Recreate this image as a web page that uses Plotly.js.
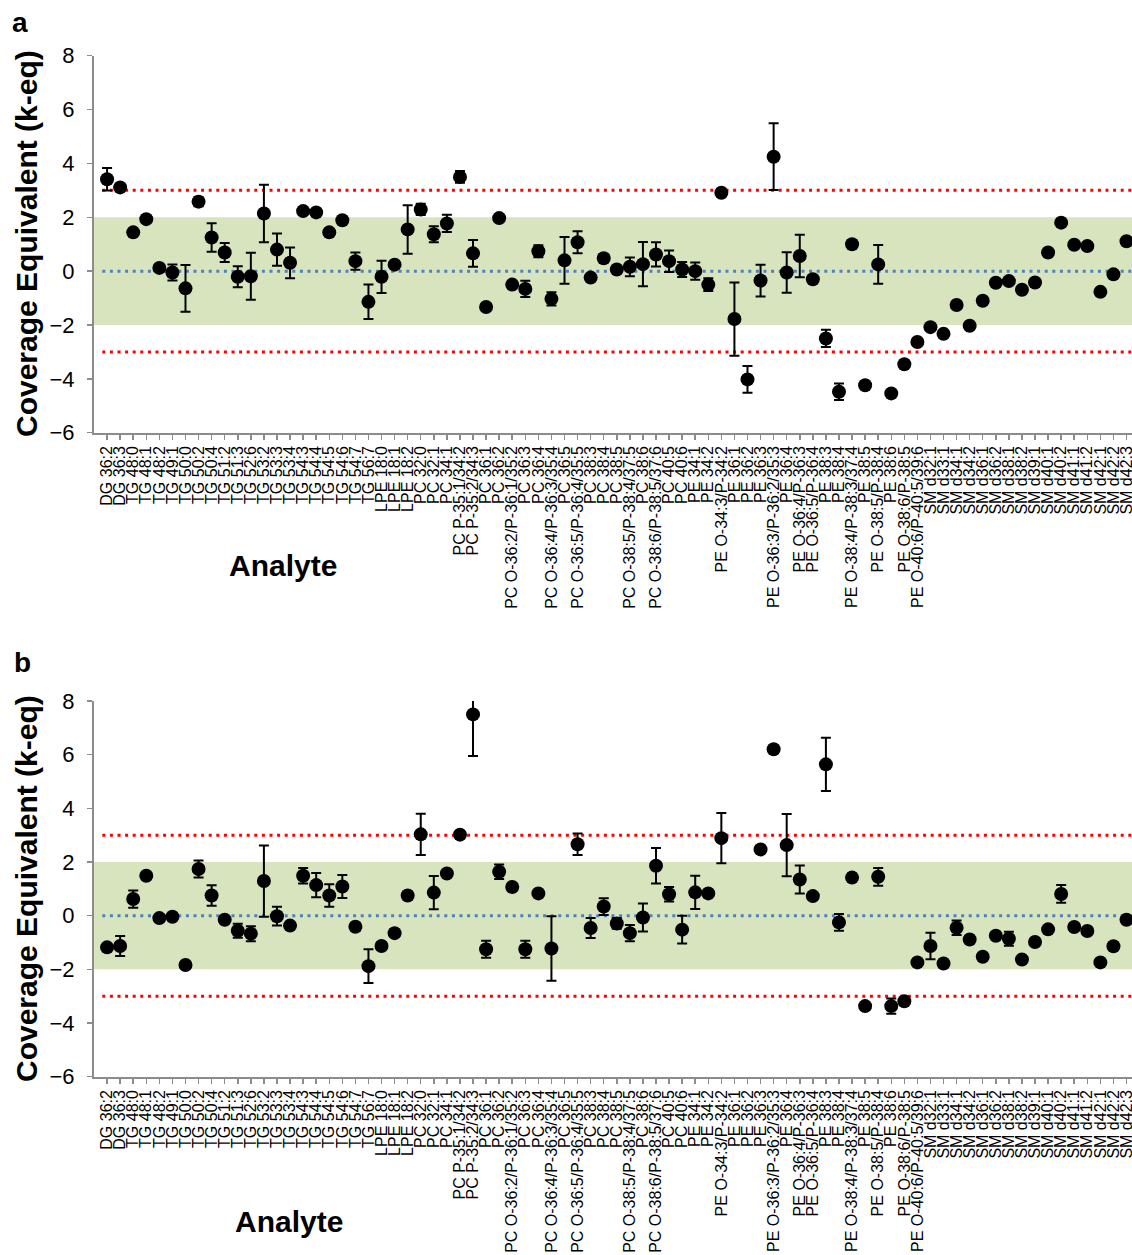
<!DOCTYPE html>
<html>
<head>
<meta charset="utf-8">
<script src="https://cdn.plot.ly/plotly-3.0.1.min.js"></script>
<style>
  html, body { margin: 0; padding: 0; background: #fff; }
  #chart { width: 1132px; height: 1255px; }
</style>
</head>
<body>
<div id="chart"></div>
<script>
// ---------------- DATA ----------------
const analytes = [
  "DG 36:2","DG 36:3","TG 48:0","TG 48:1","TG 48:2","TG 49:1","TG 50:0","TG 50:2","TG 50:4","TG 51:2",
  "TG 51:3","TG 52:6","TG 53:2","TG 53:3","TG 53:4","TG 54:3","TG 54:4","TG 54:5","TG 54:6","TG 54:7",
  "TG 56:7","LPE 18:0","LPE 18:1","LPE 18:2","PC 32:0","PC 32:1","PC 34:1","PC P-35:1/34:2","PC P-35:2/34:3","PC 36:1",
  "PC 36:2","PC O-36:2/P-36:1/35:2","PC 36:3","PC 36:4","PC O-36:4/P-36:3/35:4","PC 36:5","PC O-36:5/P-36:4/35:5","PC 38:3","PC 38:4","PC 38:5",
  "PC O-38:5/P-38:4/37:5","PC 38:6","PC O-38:6/P-38:5/37:6","PC 40:5","PC 40:6","PE 34:1","PE 34:2","PE O-34:3/P-34:2","PE 36:1","PE 36:2",
  "PE 36:3","PE O-36:3/P-36:2/35:3","PE 36:4","PE O-36:4/P-36:3","PE O-36:5/P-36:4","PE 38:3","PE 38:4","PE O-38:4/P-38:3/37:4","PE 38:5","PE O-38:5/P-38:4",
  "PE 38:6","PE O-38:6/P-38:5","PE O-40:6/P-40:5/39:6","SM d32:1","SM d33:1","SM d34:1","SM d34:2","SM d36:1","SM d36:2","SM d38:1",
  "SM d38:2","SM d39:1","SM d40:1","SM d40:2","SM d41:1","SM d41:2","SM d42:1","SM d42:2","SM d42:3"
];

// Panel a: k-eq values and error (±)
const keqA = [
  3.41, 3.11, 1.44, 1.93, 0.12, -0.05, -0.64, 2.58, 1.25, 0.69,
  -0.21, -0.19, 2.14, 0.80, 0.31, 2.23, 2.18, 1.44, 1.89, 0.37,
  -1.14, -0.21, 0.24, 1.55, 2.29, 1.37, 1.77, 3.50, 0.66, -1.33,
  1.97, -0.50, -0.66, 0.74, -1.03, 0.40, 1.07, -0.24, 0.48, 0.06,
  0.16, 0.26, 0.62, 0.37, 0.06, 0.00, -0.50, 2.91, -1.78, -4.02,
  -0.35, 4.25, -0.05, 0.56, -0.30, -2.50, -4.48, 1.00, -4.24, 0.25,
  -4.54, -3.46, -2.63, -2.08, -2.33, -1.26, -2.03, -1.10, -0.43, -0.37,
  -0.69, -0.42, 0.69, 1.80, 0.98, 0.93, -0.77, -0.12, 1.11
];
const errA = [
  0.42, 0, 0, 0, 0, 0.30, 0.87, 0.17, 0.53, 0.35,
  0.39, 0.87, 1.07, 0.60, 0.57, 0, 0, 0, 0, 0.32,
  0.64, 0.60, 0, 0.90, 0.21, 0.30, 0.32, 0.22, 0.50, 0,
  0, 0, 0.30, 0.22, 0.25, 0.87, 0.41, 0, 0.15, 0,
  0.35, 0.82, 0.45, 0.40, 0.28, 0.32, 0.24, 0.10, 1.36, 0.50,
  0.59, 1.24, 0.75, 0.79, 0.12, 0.32, 0.31, 0.15, 0, 0.72,
  0.12, 0, 0, 0, 0, 0, 0, 0, 0, 0,
  0, 0, 0, 0, 0, 0, 0, 0, 0
];

// Panel b: k-eq values and error (±); null = not measured
const keqB = [
  -1.18, -1.13, 0.62, 1.49, -0.09, -0.04, -1.84, 1.74, 0.75, -0.15,
  -0.56, -0.67, 1.29, -0.02, -0.37, 1.49, 1.14, 0.75, 1.09, -0.41,
  -1.88, -1.13, -0.65, 0.75, 3.03, 0.86, 1.57, 3.02, 7.50, -1.25,
  1.64, 1.07, -1.25, 0.83, -1.22, null, 2.66, -0.46, 0.34, -0.29,
  -0.65, -0.07, 1.86, 0.80, -0.52, 0.87, 0.83, 2.89, null, null,
  2.47, 6.20, 2.63, 1.35, 0.73, 5.64, -0.25, 1.42, -3.37, 1.45,
  -3.37, -3.19, -1.74, -1.13, -1.78, -0.45, -0.89, -1.53, -0.75, -0.86,
  -1.63, -0.98, -0.51, 0.81, -0.42, -0.57, -1.74, -1.14, -0.15
];
const errB = [
  0, 0.37, 0.32, 0, 0, 0, 0, 0.32, 0.38, 0,
  0.26, 0.28, 1.33, 0.35, 0, 0.29, 0.45, 0.42, 0.43, 0.15,
  0.63, 0, 0, 0.15, 0.77, 0.62, 0, 0, 1.55, 0.32,
  0.27, 0, 0.32, 0, 1.20, 0, 0.40, 0.37, 0.31, 0.20,
  0.30, 0.52, 0.66, 0.27, 0.52, 0.62, 0, 0.94, 0, 0,
  0.12, 0.12, 1.16, 0.52, 0, 0.99, 0.31, 0.15, 0, 0.33,
  0.28, 0, 0, 0.49, 0, 0.27, 0, 0, 0, 0.26,
  0, 0, 0, 0.33, 0, 0, 0, 0, 0
];

const acceptBand = [-2, 2];   // green acceptance band
const limitLines = [-3, 3];   // red dotted limits
const centerLine = 0;         // blue dotted centre
const yTicks = [-6, -4, -2, 0, 2, 4, 6, 8];

// ---------------- BUILD ----------------
const positions = analytes.map((_, i) => i + 1);
const FONT = "Liberation Sans, Arial, Helvetica, sans-serif";
const H = 1255, W = 1132, L = 94;
const py = p => 1 - p / H;            // pixel row -> paper y
const px = p => (p - L) / (W - L);    // pixel col -> paper x

function pointTrace(vals, errs, xa, ya) {
  return {
    type: "scatter", mode: "markers",
    x: positions, y: vals, xaxis: xa, yaxis: ya,
    marker: { color: "#000", size: 14 },
    error_y: { type: "data", array: errs, visible: true, color: "#000", thickness: 2, width: 5 },
    hoverinfo: "x+y", showlegend: false
  };
}

function xAxis(anchor) {
  return {
    anchor: anchor, range: [0, 79.42], tickmode: "array",
    tickvals: positions, ticktext: analytes, tickangle: -90,
    ticks: "outside", ticklen: 5, tickwidth: 1.5, tickcolor: "#8c8c8c",
    showline: true, linecolor: "#8c8c8c", linewidth: 2,
    showgrid: false, zeroline: false, automargin: false,
    ticklabeloverflow: "allow",
    tickfont: { family: FONT, size: 16, color: "#000" }
  };
}
function yAxis(anchor, domain) {
  return {
    anchor: anchor, domain: domain, range: [-6, 8], tickmode: "array", tickvals: yTicks,
    ticks: "outside", ticklen: 5, tickwidth: 1.5, tickcolor: "#8c8c8c",
    showline: true, linecolor: "#8c8c8c", linewidth: 2,
    showgrid: false, zeroline: false, automargin: false, ticklabelstandoff: 8,
    tickfont: { family: FONT, size: 22, color: "#000" }
  };
}

function refShapes(xr, yr) {
  const s = [];
  s.push({ type: "rect", xref: xr + " domain", yref: yr, x0: 0, x1: 1, y0: acceptBand[0], y1: acceptBand[1],
           fillcolor: "rgb(215,228,189)", line: { width: 0 }, layer: "below" });
  limitLines.forEach(v => s.push({ type: "line", xref: xr + " domain", yref: yr, x0: 0.008, x1: 1, y0: v, y1: v,
           line: { color: "#ff0000", width: 3, dash: "3px,4.6px" }, layer: "below" }));
  s.push({ type: "line", xref: xr + " domain", yref: yr, x0: 0.008, x1: 1, y0: centerLine, y1: centerLine,
           line: { color: "#4f81bd", width: 3, dash: "3px,4.6px" }, layer: "below" });
  return s;
}

const domA = [py(432.7), py(55.7)];
const domB = [py(1076.7), py(701)];

const titleFont = { family: FONT, size: 30, color: "#000" };
function ann(text, x, y, extra) {
  return Object.assign({ text: text, xref: "paper", yref: "paper", x: px(x), y: py(y),
    xanchor: "center", yanchor: "middle", showarrow: false, font: titleFont }, extra || {});
}

const layout = {
  width: W, height: H, autosize: false,
  margin: { l: L, r: 0, t: 0, b: 0, pad: 0 },
  paper_bgcolor: "#fff", plot_bgcolor: "rgba(0,0,0,0)",
  showlegend: false,
  xaxis: xAxis("y"), yaxis: yAxis("x", domA),
  xaxis2: xAxis("y2"), yaxis2: yAxis("x2", domB),
  shapes: refShapes("x", "y").concat(refShapes("x2", "y2")),
  annotations: [
    ann("<b>a</b>", 20, 22, { font: { family: FONT, size: 28, color: "#000" } }),
    ann("<b>b</b>", 22, 662, { font: { family: FONT, size: 28, color: "#000" } }),
    ann("<b>Coverage Equivalent (k-eq)</b>", 26, 244, { textangle: -90 }),
    ann("<b>Coverage Equivalent (k-eq)</b>", 26, 889, { textangle: -90 }),
    ann("<b>Analyte</b>", 283, 565),
    ann("<b>Analyte</b>", 289, 1221)
  ]
};

Plotly.newPlot("chart", [pointTrace(keqA, errA, "x", "y"), pointTrace(keqB, errB, "x2", "y2")], layout,
  { staticPlot: true, displayModeBar: false });
</script>
</body>
</html>
